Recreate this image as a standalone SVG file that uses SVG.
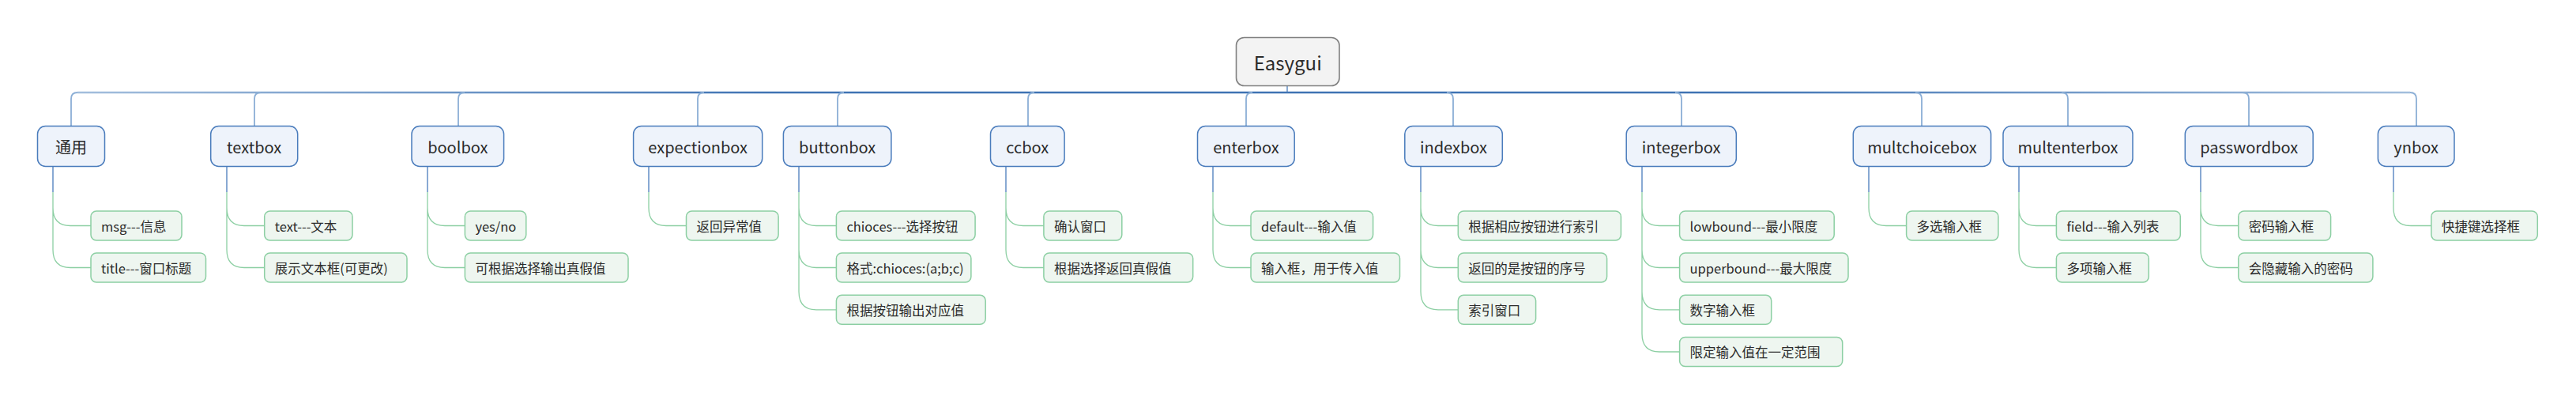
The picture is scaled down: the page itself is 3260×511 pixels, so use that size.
<svg xmlns="http://www.w3.org/2000/svg" width="3260" height="511" viewBox="0 0 3260 511">
<defs>
<style>
text{font-family:"Noto Sans CJK SC","Liberation Sans",sans-serif;fill:#2b2b2b;dominant-baseline:central}
.root rect{fill:#f3f3f3;stroke:#808080;stroke-width:1.6}
.root text{font-size:24px;text-anchor:middle}
.l1 rect{fill:#eef3fb;stroke:#4a7cbc;stroke-width:1.5}
.l1 text{font-size:20px;text-anchor:middle}
.l2 rect{fill:#eef6f0;stroke:#8ccfa3;stroke-width:1.5}
.l2 text{font-size:16.5px}
.trunk{fill:none;stroke:url(#g);stroke-width:2.5}
.stem{fill:none;stroke:#8cafd6;stroke-width:1.8}
.bl{fill:none;stroke:#4a7cbc;stroke-width:1.3}
.gr{fill:none;stroke:#8ccfa3;stroke-width:1.3}
</style>
<linearGradient id="g" gradientUnits="userSpaceOnUse" x1="90" y1="0" x2="3058" y2="0">
<stop offset="0" stop-color="#a4bfdd"/>
<stop offset="0.3" stop-color="#3f73b3"/>
<stop offset="0.7" stop-color="#3f73b3"/>
<stop offset="1" stop-color="#a4bfdd"/>
</linearGradient>
</defs>
<rect width="3260" height="511" fill="#ffffff"/>
<g id="connectors">
<path class="trunk" d="M98,117 H3050"/>
<path class="bl" d="M1629,108 V117"/>
<path class="stem" d="M98,117 Q90,117 90,125 V159"/>
<path class="stem" d="M330,117 Q322,117 322,125 V159"/>
<path class="stem" d="M588,117 Q580,117 580,125 V159"/>
<path class="stem" d="M891,117 Q883,117 883,125 V159"/>
<path class="stem" d="M1068,117 Q1060,117 1060,125 V159"/>
<path class="stem" d="M1309,117 Q1301,117 1301,125 V159"/>
<path class="stem" d="M1585,117 Q1577,117 1577,125 V159"/>
<path class="stem" d="M1831,117 Q1839,117 1839,125 V159"/>
<path class="stem" d="M2120,117 Q2128,117 2128,125 V159"/>
<path class="stem" d="M2424,117 Q2432,117 2432,125 V159"/>
<path class="stem" d="M2609,117 Q2617,117 2617,125 V159"/>
<path class="stem" d="M2838,117 Q2846,117 2846,125 V159"/>
<path class="stem" d="M3050,117 Q3058,117 3058,125 V159"/>
<!-- blue short segments -->
<path class="bl" d="M67,211 V243 M287,211 V243 M541,211 V243 M821,211 V243 M1011,211 V243 M1273,211 V243 M1535,211 V243 M1798,211 V243 M2078,211 V243 M2365,211 V243 M2555,211 V243 M2785,211 V243 M3029,211 V243"/>
<!-- green child connectors -->
<path class="gr" d="M67,243 V263 Q67,285.5 89,285.5 H115 M67,263 V316 Q67,338.5 89,338.5 H115"/>
<path class="gr" d="M287,243 V263 Q287,285.5 309,285.5 H335 M287,263 V316 Q287,338.5 309,338.5 H335"/>
<path class="gr" d="M541,243 V263 Q541,285.5 563,285.5 H588 M541,263 V316 Q541,338.5 563,338.5 H588"/>
<path class="gr" d="M821,243 V263 Q821,285.5 843,285.5 H868"/>
<path class="gr" d="M1011,243 V263 Q1011,285.5 1033,285.5 H1058 M1011,263 V316 Q1011,338.5 1033,338.5 H1058 M1011,316 V369 Q1011,391.8 1033,391.8 H1058"/>
<path class="gr" d="M1273,243 V263 Q1273,285.5 1295,285.5 H1321 M1273,263 V316 Q1273,338.5 1295,338.5 H1321"/>
<path class="gr" d="M1535,243 V263 Q1535,285.5 1557,285.5 H1583 M1535,263 V316 Q1535,338.5 1557,338.5 H1583"/>
<path class="gr" d="M1798,243 V263 Q1798,285.5 1820,285.5 H1845 M1798,263 V316 Q1798,338.5 1820,338.5 H1845 M1798,316 V369 Q1798,391.8 1820,391.8 H1845"/>
<path class="gr" d="M2078,243 V263 Q2078,285.5 2100,285.5 H2126 M2078,263 V316 Q2078,338.5 2100,338.5 H2126 M2078,316 V369 Q2078,391.8 2100,391.8 H2126 M2078,369 V422 Q2078,445 2100,445 H2126"/>
<path class="gr" d="M2365,243 V263 Q2365,285.5 2387,285.5 H2413"/>
<path class="gr" d="M2555,243 V263 Q2555,285.5 2577,285.5 H2602 M2555,263 V316 Q2555,338.5 2577,338.5 H2602"/>
<path class="gr" d="M2785,243 V263 Q2785,285.5 2807,285.5 H2833 M2785,263 V316 Q2785,338.5 2807,338.5 H2833"/>
<path class="gr" d="M3029,243 V263 Q3029,285.5 3051,285.5 H3077"/>
</g>
<g id="root" class="root"><rect x="1564.5" y="47.5" width="130.5" height="61" rx="10"/><text x="1629.7" y="78">Easygui</text></g>
<g class="l1">
<g id="n-tongyong"><rect x="47.5" y="159.5" width="85" height="51" rx="10"/><text x="90" y="185">通用</text></g>
<g id="n-textbox"><rect x="266.7" y="159.5" width="110" height="51" rx="10"/><text x="321.7" y="185">textbox</text></g>
<g id="n-boolbox"><rect x="521" y="159.5" width="116.6" height="51" rx="10"/><text x="579.3" y="185">boolbox</text></g>
<g id="n-expectionbox"><rect x="801.6" y="159.5" width="163.1" height="51" rx="10"/><text x="883.2" y="185">expectionbox</text></g>
<g id="n-buttonbox"><rect x="991.4" y="159.5" width="136.5" height="51" rx="10"/><text x="1059.7" y="185">buttonbox</text></g>
<g id="n-ccbox"><rect x="1253.5" y="159.5" width="93.6" height="51" rx="10"/><text x="1300.3" y="185">ccbox</text></g>
<g id="n-enterbox"><rect x="1515.5" y="159.5" width="122.7" height="51" rx="10"/><text x="1576.9" y="185">enterbox</text></g>
<g id="n-indexbox"><rect x="1777.8" y="159.5" width="123.5" height="51" rx="10"/><text x="1839.5" y="185">indexbox</text></g>
<g id="n-integerbox"><rect x="2058.2" y="159.5" width="139.1" height="51" rx="10"/><text x="2127.7" y="185">integerbox</text></g>
<g id="n-multchoicebox"><rect x="2345.3" y="159.5" width="174.3" height="51" rx="10"/><text x="2432.4" y="185">multchoicebox</text></g>
<g id="n-multenterbox"><rect x="2535" y="159.5" width="164" height="51" rx="10"/><text x="2617" y="185">multenterbox</text></g>
<g id="n-passwordbox"><rect x="2765.3" y="159.5" width="161.9" height="51" rx="10"/><text x="2846.2" y="185">passwordbox</text></g>
<g id="n-ynbox"><rect x="3009.4" y="159.5" width="96.6" height="51" rx="10"/><text x="3057.7" y="185">ynbox</text></g>
</g>
<g class="l2">
<g id="c-msg"><rect x="115" y="267" width="115" height="37" rx="7"/><text x="128" y="285.5">msg---信息</text></g>
<g id="c-title"><rect x="115" y="320" width="145.5" height="37" rx="7"/><text x="128" y="338.5">title---窗口标题</text></g>
<g id="c-text"><rect x="334.7" y="267" width="111.3" height="37" rx="7"/><text x="347.7" y="285.5">text---文本</text></g>
<g id="c-zhanshi"><rect x="334.7" y="320" width="180.3" height="37" rx="7"/><text x="347.7" y="338.5">展示文本框(可更改)</text></g>
<g id="c-yesno"><rect x="588.4" y="267" width="77.4" height="37" rx="7"/><text x="601.4" y="285.5">yes/no</text></g>
<g id="c-kegenju"><rect x="588.4" y="320" width="206.6" height="37" rx="7"/><text x="601.4" y="338.5">可根据选择输出真假值</text></g>
<g id="c-fanhui"><rect x="868.5" y="267" width="116.6" height="37" rx="7"/><text x="881.5" y="285.5">返回异常值</text></g>
<g id="c-chioces"><rect x="1058.4" y="267" width="175.7" height="37" rx="7"/><text x="1071.4" y="285.5">chioces---选择按钮</text></g>
<g id="c-geshi"><rect x="1058.4" y="320" width="170.5" height="37" rx="7"/><text x="1071.4" y="338.5">格式:chioces:(a;b;c)</text></g>
<g id="c-genjuanniu"><rect x="1058.4" y="373.3" width="188.8" height="37" rx="7"/><text x="1071.4" y="391.8">根据按钮输出对应值</text></g>
<g id="c-queren"><rect x="1320.9" y="267" width="98.9" height="37" rx="7"/><text x="1333.9" y="285.5">确认窗口</text></g>
<g id="c-genjuxuanze"><rect x="1320.9" y="320" width="188.8" height="37" rx="7"/><text x="1333.9" y="338.5">根据选择返回真假值</text></g>
<g id="c-default"><rect x="1583" y="267" width="154.6" height="37" rx="7"/><text x="1596" y="285.5">default---输入值</text></g>
<g id="c-shurukuang"><rect x="1583" y="320" width="188.5" height="37" rx="7"/><text x="1596" y="338.5">输入框，用于传入值</text></g>
<g id="c-suoyin1"><rect x="1845.3" y="267" width="206.1" height="37" rx="7"/><text x="1858.3" y="285.5">根据相应按钮进行索引</text></g>
<g id="c-suoyin2"><rect x="1845.3" y="320" width="188.3" height="37" rx="7"/><text x="1858.3" y="338.5">返回的是按钮的序号</text></g>
<g id="c-suoyin3"><rect x="1845.3" y="373.3" width="98.3" height="37" rx="7"/><text x="1858.3" y="391.8">索引窗口</text></g>
<g id="c-lowbound"><rect x="2125.6" y="267" width="195.6" height="37" rx="7"/><text x="2138.6" y="285.5">lowbound---最小限度</text></g>
<g id="c-upperbound"><rect x="2125.6" y="320" width="213.4" height="37" rx="7"/><text x="2138.6" y="338.5">upperbound---最大限度</text></g>
<g id="c-shuzi"><rect x="2125.6" y="373.3" width="116.1" height="37" rx="7"/><text x="2138.6" y="391.8">数字输入框</text></g>
<g id="c-xianding"><rect x="2125.6" y="426.5" width="206.1" height="37" rx="7"/><text x="2138.6" y="445">限定输入值在一定范围</text></g>
<g id="c-duoxuan"><rect x="2412.6" y="267" width="116.3" height="37" rx="7"/><text x="2425.6" y="285.5">多选输入框</text></g>
<g id="c-field"><rect x="2602.4" y="267" width="156.9" height="37" rx="7"/><text x="2615.4" y="285.5">field---输入列表</text></g>
<g id="c-duoxiang"><rect x="2602.4" y="320" width="116.9" height="37" rx="7"/><text x="2615.4" y="338.5">多项输入框</text></g>
<g id="c-mima"><rect x="2832.8" y="267" width="116.8" height="37" rx="7"/><text x="2845.8" y="285.5">密码输入框</text></g>
<g id="c-yincang"><rect x="2832.8" y="320" width="170.1" height="37" rx="7"/><text x="2845.8" y="338.5">会隐藏输入的密码</text></g>
<g id="c-kuaijie"><rect x="3076.9" y="267" width="134.4" height="37" rx="7"/><text x="3089.9" y="285.5">快捷键选择框</text></g>
</g>
</svg>
